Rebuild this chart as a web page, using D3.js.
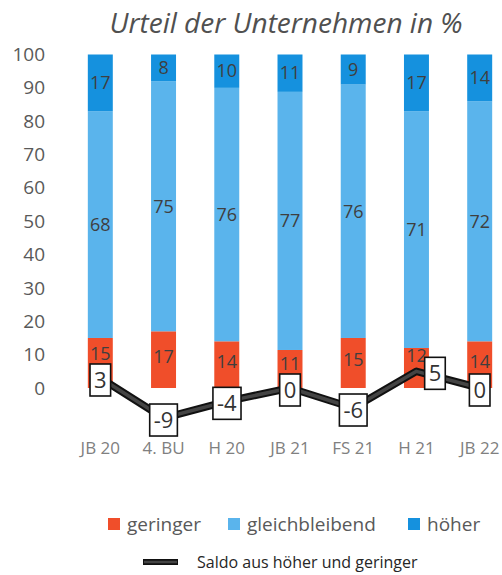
<!DOCTYPE html>
<html>
<head>
<meta charset="utf-8">
<script src="https://cdn.jsdelivr.net/npm/d3@7"></script>
<style>
  body { margin: 0; background: #fff; }
  svg { display: block; }
</style>
</head>
<body>
<div id="chart"></div>
<script>
// Chart data (bar shares as drawn; labels are shown rounded)
const categories = ["JB 20", "4. BU", "H 20", "JB 21", "FS 21", "H 21", "JB 22"];
const geringer = [15, 17, 14, 11.4, 15, 12, 14];
const gleichbleibend = [68, 75, 76, 77.4, 76, 71, 72];
const hoeher = [17, 8, 10, 11.2, 9, 17, 14];
const saldo = [3, -9, -4, 0, -6, 5, 0];
const yTicks = [0, 10, 20, 30, 40, 50, 60, 70, 80, 90, 100];
const seriesNames = ["geringer", "gleichbleibend", "höher"];

const width = 502;
const height = 575;
const colors = { "geringer": "#f04e2a", "gleichbleibend": "#5ab4ec", "höher": "#1591de" };
const font = "'Open Sans', sans-serif";

const svg = d3.select("#chart").append("svg")
    .attr("width", width)
    .attr("height", height);

// scales
const x = d3.scaleBand()
    .domain(categories)
    .range([60, 520])
    .paddingInner(0.605)
    .paddingOuter(0.44);

const y = d3.scaleLinear()
    .domain([0, 100])
    .range([388, 54.5]);

// title
svg.append("text")
    .attr("x", 286)
    .attr("y", 33)
    .attr("text-anchor", "middle")
    .attr("font-family", font)
    .attr("font-style", "italic")
    .attr("font-size", "28px")
    .attr("fill", "#505050")
    .text("Urteil der Unternehmen in %");

// y axis (labels only)
const yAxis = d3.axisLeft(y).tickValues(yTicks).tickSize(0).tickPadding(0);
svg.append("g")
    .attr("transform", "translate(45,0)")
    .call(yAxis)
    .call(g => g.select(".domain").remove())
    .selectAll("text")
    .attr("font-family", font)
    .attr("font-size", "19px")
    .attr("fill", "#595959");

// stacked bars
const rows = categories.map((c, i) => ({
    cat: c,
    "geringer": geringer[i],
    "gleichbleibend": gleichbleibend[i],
    "höher": hoeher[i]
}));
const stack = d3.stack().keys(seriesNames)(rows);

const layers = svg.append("g")
    .selectAll("g")
    .data(stack)
    .join("g")
    .attr("fill", d => colors[d.key]);

layers.selectAll("rect")
    .data(d => d)
    .join("rect")
    .attr("x", d => x(d.data.cat))
    .attr("y", d => y(d[1]))
    .attr("width", x.bandwidth())
    .attr("height", d => y(d[0]) - y(d[1]));

// saldo label boxes: work out where they sit first, so red labels can dodge them
const pts = categories.map((c, i) => [x(c) + x.bandwidth() / 2, y(saldo[i])]);
const boxes = pts.map((p, i) => ({ p, v: saldo[i], dx: 0, top: p[1] + 2 - 16 }));
const redY = categories.map((c, i) => y(geringer[i] / 2) - 3);
boxes.forEach((b, i) => {
    if (redY[i] + 10 > b.top) {
        const wanted = b.top - 10;
        if (wanted - 8 >= y(geringer[i]) - 2) {
            redY[i] = wanted;
        } else {
            redY[i] = y(geringer[i]) + 8;
            b.dx = 18.5;   // push the box off the bar
        }
    }
});

layers.selectAll("text")
    .data((d, k) => d.map((v, i) => ({ v, i, key: d.key })))
    .join("text")
    .attr("x", d => x(d.v.data.cat) + x.bandwidth() / 2)
    .attr("y", d => d.key === "geringer" ? redY[d.i] : y((d.v[0] + d.v[1]) / 2))
    .attr("dy", "0.35em")
    .attr("text-anchor", "middle")
    .attr("font-family", font)
    .attr("font-size", "18px")
    .attr("fill", "#3f3f3f")
    .text(d => Math.round(d.v.data[d.key]));

// x axis labels
const xAxis = d3.axisBottom(x).tickSize(0).tickPadding(0);
svg.append("g")
    .attr("transform", "translate(0,442)")
    .call(xAxis)
    .call(g => g.select(".domain").remove())
    .selectAll("text")
    .attr("font-family", font)
    .attr("font-size", "17px")
    .attr("fill", "#808080");

// saldo line
const line = d3.line();
svg.append("path")
    .attr("d", line(pts))
    .attr("fill", "none")
    .attr("stroke", "#111")
    .attr("stroke-width", 7.5)
    .attr("stroke-linejoin", "round");
svg.append("path")
    .attr("d", line(pts))
    .attr("fill", "none")
    .attr("stroke", "#444")
    .attr("stroke-width", 3.5)
    .attr("stroke-linejoin", "round");

// saldo labels
const lab = svg.append("g")
    .selectAll("g")
    .data(boxes)
    .join("g")
    .attr("transform", d => `translate(${d.p[0] + d.dx},${d.p[1] + 2})`);

lab.append("text")
    .attr("text-anchor", "middle")
    .attr("dy", "0.35em")
    .attr("font-family", font)
    .attr("font-size", "22px")
    .attr("fill", "#333")
    .text(d => d.v);

lab.each(function () {
    const g = d3.select(this);
    const bb = g.select("text").node().getBBox();
    g.insert("rect", "text")
        .attr("x", bb.x - 4)
        .attr("y", -16)
        .attr("width", bb.width + 8)
        .attr("height", 32)
        .attr("fill", "#fff")
        .attr("stroke", "#111")
        .attr("stroke-width", 1.6);
});

// legend
const legendX = [108, 228, 408];
const legend = svg.append("g")
    .selectAll("g")
    .data(seriesNames)
    .join("g")
    .attr("transform", (d, i) => `translate(${legendX[i]},518)`);
legend.append("rect")
    .attr("width", 12)
    .attr("height", 12)
    .attr("fill", d => colors[d]);
legend.append("text")
    .attr("x", 19)
    .attr("y", 6)
    .attr("dy", "0.35em")
    .attr("font-family", font)
    .attr("font-size", "19px")
    .attr("fill", "#595959")
    .text(d => d);

svg.append("line")
    .attr("x1", 143).attr("x2", 178)
    .attr("y1", 562).attr("y2", 562)
    .attr("stroke", "#111")
    .attr("stroke-width", 6);
svg.append("line")
    .attr("x1", 144).attr("x2", 177)
    .attr("y1", 562).attr("y2", 562)
    .attr("stroke", "#444")
    .attr("stroke-width", 2.5);
svg.append("text")
    .attr("x", 197)
    .attr("y", 562)
    .attr("dy", "0.35em")
    .attr("font-family", font)
    .attr("font-size", "16px")
    .attr("fill", "#262626")
    .text("Saldo aus höher und geringer");
</script>
</body>
</html>
